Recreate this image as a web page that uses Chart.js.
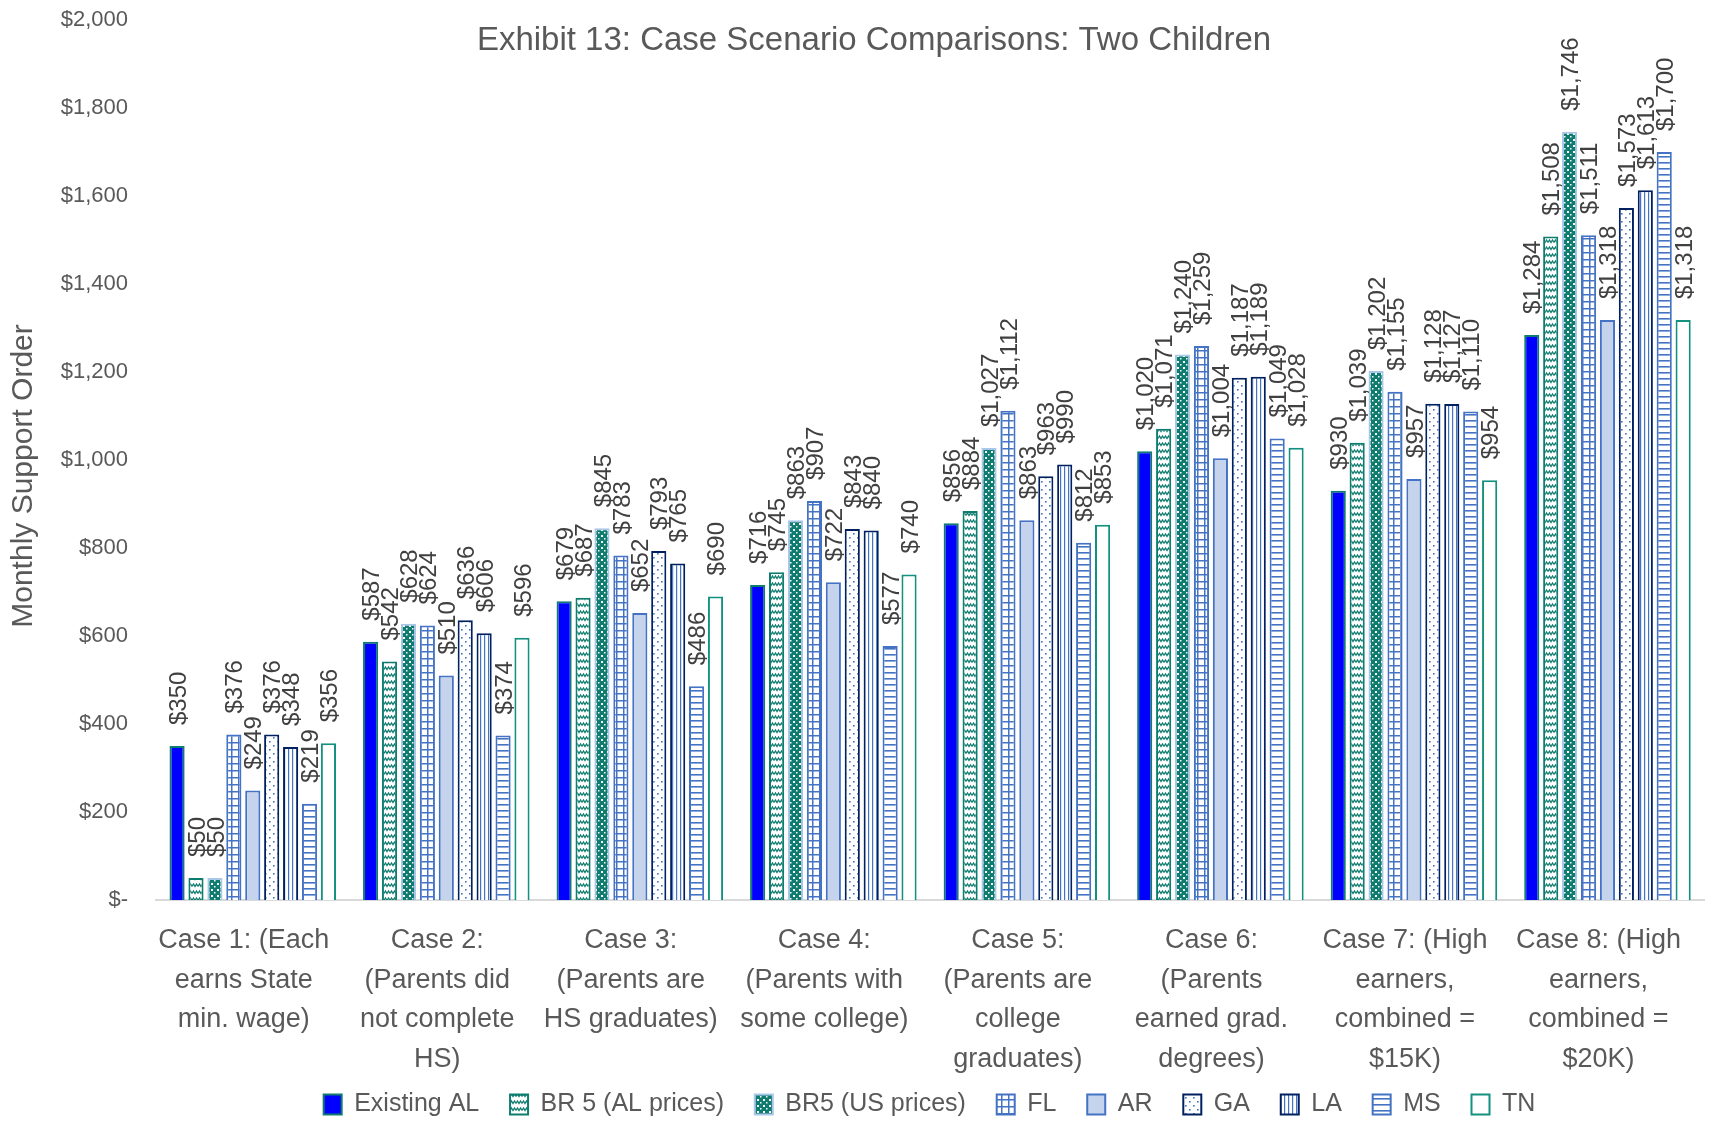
<!DOCTYPE html>
<html>
<head>
<meta charset="utf-8">
<script src="https://cdn.jsdelivr.net/npm/chart.js@4.4.1/dist/chart.umd.min.js"></script>
<style>
  html, body { margin: 0; padding: 0; background: #fff; }
  #wrap { width: 1711px; height: 1123px; position: relative; }
</style>
</head>
<body>
<div id="wrap"><canvas id="chart"></canvas></div>
<script>
// --- data ---
const categories = [
  ['Case 1: (Each', 'earns State', 'min. wage)'],
  ['Case 2:', '(Parents did', 'not complete', 'HS)'],
  ['Case 3:', '(Parents are', 'HS graduates)'],
  ['Case 4:', '(Parents with', 'some college)'],
  ['Case 5:', '(Parents are', 'college', 'graduates)'],
  ['Case 6:', '(Parents', 'earned grad.', 'degrees)'],
  ['Case 7: (High', 'earners,', 'combined =', '$15K)'],
  ['Case 8: (High', 'earners,', 'combined =', '$20K)']
];
const seriesNames = ['Existing AL', 'BR 5 (AL prices)', 'BR5 (US prices)', 'FL', 'AR', 'GA', 'LA', 'MS', 'TN'];
const existingAL = [350, 587, 679, 716, 856, 1020, 930, 1284];
const br5AL      = [50, 542, 687, 745, 884, 1071, 1039, 1508];
const br5US      = [50, 628, 845, 863, 1027, 1240, 1202, 1746];
const fl         = [376, 624, 783, 907, 1112, 1259, 1155, 1511];
const ar         = [249, 510, 652, 722, 863, 1004, 957, 1318];
const ga         = [376, 636, 793, 843, 963, 1187, 1128, 1573];
const la         = [348, 606, 765, 840, 990, 1189, 1127, 1613];
const ms         = [219, 374, 486, 577, 812, 1049, 1110, 1700];
const tn         = [356, 596, 690, 740, 853, 1028, 954, 1318];
const yMin = 0, yMax = 2000, yStep = 200;

const FONT = "'Liberation Sans', Arial, sans-serif";
const TEAL = '#0e7c6e', BLUE = '#4472c4', NAVY = '#002060';

// small canvas patterns, like Excel's pattern fills
function makePattern(w, h, bg, draw) {
  let c = document.createElement('canvas');
  c.width = w; c.height = h;
  let g = c.getContext('2d');
  g.fillStyle = bg; g.fillRect(0, 0, w, h);
  draw(g);
  return g.createPattern(c, 'repeat');
}
let wavePat = makePattern(6, 7, '#fff', g => {
  g.strokeStyle = TEAL; g.lineWidth = 1.3;
  g.beginPath(); g.moveTo(0, 4.5); g.lineTo(1.5, 2); g.lineTo(3, 4.5); g.lineTo(4.5, 2); g.lineTo(6, 4.5); g.stroke();
});
let dotTealPat = makePattern(6, 6, TEAL, g => {
  g.fillStyle = '#fff'; g.fillRect(1, 1, 2, 2); g.fillRect(4, 4, 1.5, 1.5);
});
let gridPat = makePattern(7, 7, '#fff', g => {
  g.fillStyle = BLUE; g.fillRect(0, 0, 7, 1.5); g.fillRect(0, 0, 1.5, 7);
});
let dotBluePat = makePattern(8, 8, '#fff', g => {
  g.fillStyle = BLUE; g.fillRect(1, 1, 1.6, 1.6); g.fillRect(5, 5, 1.6, 1.6);
});
let vLinePat = makePattern(4, 4, '#fff', g => {
  g.fillStyle = BLUE; g.fillRect(0, 0, 1.2, 4);
});
let hLinePat = makePattern(6, 6, '#fff', g => {
  g.fillStyle = BLUE; g.fillRect(0, 0, 6, 1.6);
});

const seriesData = [existingAL, br5AL, br5US, fl, ar, ga, la, ms, tn];
const fills   = ['#0000ff', wavePat, dotTealPat, gridPat, '#c5d4ec', dotBluePat, vLinePat, hLinePat, '#ffffff'];
const borders = [TEAL, TEAL, '#a9c7e8', BLUE, BLUE, NAVY, NAVY, BLUE, '#13907f'];

const datasets = seriesNames.map((name, i) => ({
  label: name,
  data: seriesData[i],
  backgroundColor: fills[i],
  borderColor: borders[i],
  borderWidth: 2
}));

function money(v) {
  if (v === 0) return '$-';
  return '$' + v.toLocaleString('en-US');
}

// rotated value labels above each bar
const barLabels = {
  id: 'barLabels',
  afterDatasetsDraw(chart) {
    let ctx = chart.ctx;
    ctx.save();
    ctx.font = '24px ' + FONT;
    ctx.fillStyle = '#404040';
    ctx.textAlign = 'left';
    ctx.textBaseline = 'middle';
    chart.data.datasets.forEach((ds, di) => {
      chart.getDatasetMeta(di).data.forEach((bar, i) => {
        ctx.save();
        ctx.translate(bar.x + 2, bar.y - 21);
        ctx.rotate(-Math.PI / 2);
        ctx.fillText(money(ds.data[i]), 0, 0);
        ctx.restore();
      });
    });
    ctx.restore();
  }
};

// chart title sits inside the plot area and the y title is a bit low, as in the original
const extraText = {
  id: 'extraText',
  afterLayout(chart) {
    // legend is centred under the plot, not under the canvas
    let shift = 71;
    chart.legend.left += shift;
    chart.legend.right += shift;
    chart.legend.top += 4;
    chart.legend.bottom += 4;
  },
  afterDraw(chart) {
    let ctx = chart.ctx;
    ctx.save();
    ctx.fillStyle = '#595959';
    ctx.textAlign = 'center';
    ctx.textBaseline = 'middle';
    ctx.font = '33px ' + FONT;
    ctx.fillText('Exhibit 13: Case Scenario Comparisons: Two Children', 874, 41);
    ctx.translate(24, 476);
    ctx.rotate(-Math.PI / 2);
    ctx.font = '30px ' + FONT;
    ctx.fillText('Monthly Support Order', 0, 0);
    ctx.restore();
  }
};

const legendGap = '   ';

new Chart(document.getElementById('chart'), {
  type: 'bar',
  data: { labels: categories, datasets: datasets },
  options: {
    responsive: true,
    maintainAspectRatio: false,
    animation: false,
    layout: { padding: { top: 20, left: 6, right: 0, bottom: 0 } },
    datasets: { bar: { categoryPercentage: 0.88, barPercentage: 0.8 } },
    scales: {
      x: {
        grid: { display: false, drawTicks: false },
        border: { color: '#d9d9d9', width: 2 },
        ticks: { color: '#595959', font: { family: FONT, size: 27, lineHeight: 1.467 }, padding: 21, labelOffset: -9, maxRotation: 0, autoSkip: false },
        afterFit(s) { s.height = 178; }
      },
      y: {
        min: yMin, max: yMax,
        grid: { display: false, drawTicks: false },
        border: { display: false },
        ticks: { stepSize: yStep, color: '#595959', font: { family: FONT, size: 22 }, padding: 28, callback: v => money(v) },
        afterFit(s) { s.width = 150; s.paddingTop = 0; s.paddingBottom = 0; }
      }
    },
    plugins: {
      legend: {
        position: 'bottom',
        labels: {
          color: '#595959', font: { family: FONT, size: 25 }, boxWidth: 18, boxHeight: 20, padding: 10,
          generateLabels(chart) {
            let items = Chart.defaults.plugins.legend.labels.generateLabels(chart);
            items.forEach((it, i) => { if (i < items.length - 1) it.text = it.text + legendGap; });
            return items;
          }
        }
      },
      tooltip: { enabled: false }
    }
  },
  plugins: [barLabels, extraText]
});
</script>
</body>
</html>
